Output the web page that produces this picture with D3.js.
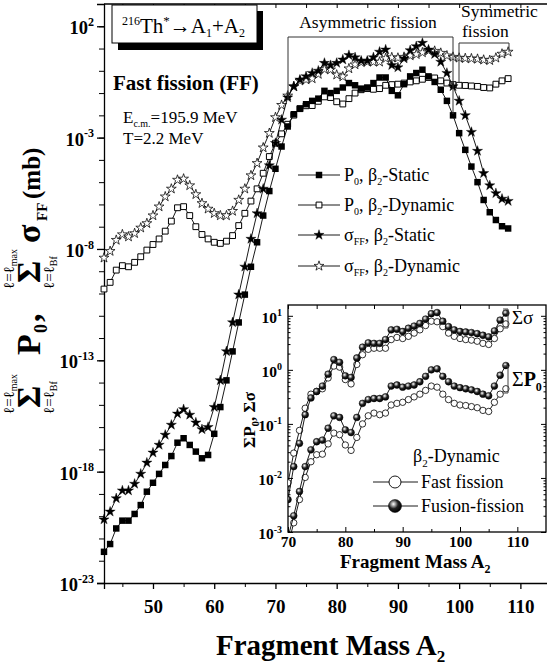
<!DOCTYPE html>
<html>
<head>
<meta charset="utf-8">
<script src="https://cdn.jsdelivr.net/npm/d3@7"></script>
<style>
body { margin: 0; background: #fff; }
</style>
</head>
<body>
<script>
const width = 547, height = 666;
const serif = "'Liberation Serif'";

// fragment mass A2, main panel
const massMain = [42,43,44,45,46,47,48,49,50,51,52,53,54,55,56,57,58,59,60,61,
  62,63,64,65,66,67,68,69,70,71,72,73,74,75,76,77,78,79,80,81,
  82,83,84,85,86,87,88,89,90,91,92,93,94,95,96,97,98,99,100,101,
  102,103,104,105,106,107,108];

// all values below are log10 of the plotted quantity
const p0Static = [-21.6,-21.25,-20.55,-20.2,-20.2,-19.9,-19.5,-18.9,-18.5,-18.1,
  -17.7,-17.3,-16.7,-16.5,-16.8,-17.1,-17.4,-17.25,-16.3,-15.1,
  -13.9,-12.6,-11.3,-10.05,-8.8,-7.7,-6.5,-5.4,-4.4,-3.4,
  -2.5,-1.95,-1.7,-1.5,-1.35,-1.25,-0.9,-1.0,-0.9,-0.75,
  -0.55,-0.65,-0.8,-0.75,-0.55,-0.3,-0.3,-0.9,-1.1,-0.6,
  -0.25,-0.1,0.05,-0.25,-0.5,-0.85,-1.35,-2.0,-2.8,-3.55,
  -4.3,-5.0,-5.8,-6.35,-6.7,-6.98,-7.08];

const p0Dynamic = [-9.8,-9.5,-8.95,-8.75,-8.8,-8.6,-8.35,-8.05,-7.8,-7.55,
  -7.2,-6.75,-6.15,-6.1,-6.5,-7.0,-7.35,-7.55,-7.7,-7.75,
  -7.65,-7.4,-6.95,-6.4,-5.85,-5.3,-4.6,-3.85,-3.25,-2.83,
  -2.4,-1.99,-1.7,-1.57,-1.56,-1.37,-1.17,-1.2,-1.39,-1.49,
  -1.25,-1.0,-0.85,-0.8,-0.83,-0.8,-0.65,-0.62,-0.6,-0.55,
  -0.5,-0.45,-0.38,-0.3,-0.32,-0.45,-0.55,-0.62,-0.65,-0.66,
  -0.68,-0.7,-0.75,-0.77,-0.6,-0.45,-0.35];

const sigmaStatic = [-20.15,-19.8,-19.2,-18.85,-18.85,-18.55,-18.1,-17.6,-17.15,-16.8,
  -16.35,-15.9,-15.4,-15.2,-15.45,-15.8,-16.1,-16.0,-15.1,-13.9,
  -12.6,-11.3,-10.05,-8.8,-7.55,-6.4,-5.3,-4.25,-3.25,-2.2,
  -1.2,-0.7,-0.4,-0.25,-0.1,0.0,0.35,0.25,0.35,0.5,
  0.7,0.6,0.45,0.45,0.6,0.85,0.95,0.25,0.15,0.55,
  0.92,1.1,1.25,0.95,0.75,0.4,-0.1,-0.7,-1.35,-2.0,
  -2.75,-3.6,-4.6,-5.15,-5.5,-5.75,-5.85];

const sigmaDynamic = [-8.4,-8.1,-7.6,-7.35,-7.45,-7.3,-7.05,-6.85,-6.5,-6.1,
  -5.65,-5.3,-4.9,-4.85,-5.15,-5.55,-5.95,-6.2,-6.4,-6.5,
  -6.5,-6.3,-5.8,-5.3,-4.7,-4.15,-3.45,-2.8,-2.09,-1.54,
  -1.12,-0.71,-0.45,-0.4,-0.35,-0.15,0.07,0.05,-0.18,-0.26,
  0.1,0.28,0.38,0.4,0.4,0.4,0.56,0.6,0.58,0.62,
  0.68,0.74,0.82,0.9,0.89,0.8,0.68,0.62,0.58,0.56,
  0.55,0.53,0.49,0.47,0.58,0.76,0.85];

// inset: fusion-fission (beta2-dynamic), A2 = 70..108
const massInset = [70,71,72,73,74,75,76,77,78,79,80,81,82,83,84,85,86,87,88,89,
  90,91,92,93,94,95,96,97,98,99,100,101,102,103,104,105,106,107,108];
const fusionSigma = [-2.4,-1.79,-1.36,-0.83,-0.52,-0.4,-0.3,-0.08,0.19,0.14,
  -0.11,-0.14,0.22,0.42,0.5,0.49,0.49,0.56,0.74,0.75,
  0.71,0.77,0.81,0.86,0.94,1.04,1.06,0.9,0.8,0.74,
  0.71,0.7,0.69,0.67,0.64,0.61,0.72,0.92,1.05];
const fusionP0 = [-3.1,-2.7,-2.25,-1.79,-1.48,-1.33,-1.3,-1.08,-0.85,-0.88,
  -1.11,-1.16,-0.88,-0.62,-0.55,-0.53,-0.53,-0.5,-0.3,-0.28,
  -0.32,-0.3,-0.28,-0.22,-0.12,0.0,0.02,-0.12,-0.22,-0.3,
  -0.33,-0.35,-0.37,-0.4,-0.45,-0.48,-0.3,-0.1,0.08];

const xTicksMain = [50,60,70,80,90,100,110];
const xMinorMain = [45,55,65,75,85,95,105,115];
const yLabelExpMain = [2,-3,-8,-13,-18,-23];
const xTicksInset = [70,80,90,100,110];
const xMinorInset = [75,85,95,105];
const yLabelExpInset = [1,0,-1,-2,-3];

const svg = d3.select("body").append("svg")
  .attr("width", width)
  .attr("height", height)
  .attr("font-family", serif);

const defs = svg.append("defs");
const grad = defs.append("radialGradient").attr("id", "ball")
  .attr("cx", "38%").attr("cy", "35%").attr("r", "65%");
grad.append("stop").attr("offset", "0%").attr("stop-color", "#fff");
grad.append("stop").attr("offset", "22%").attr("stop-color", "#aaa");
grad.append("stop").attr("offset", "55%").attr("stop-color", "#222");
grad.append("stop").attr("offset", "100%").attr("stop-color", "#000");

// ---------- main panel ----------
const x = d3.scaleLinear([42, 115], [104, 551]);
const y = d3.scaleLog([1e-23, 1e3], [583, 4]);

const decadesMain = d3.range(-23, 3).map(e => 10 ** e);

function powLabels(sel, fs, sfs) {
  sel.each(function (d) {
    const t = d3.select(this);
    const e = Math.round(Math.log10(d));
    t.text(null);
    t.append("tspan").text("10");
    t.append("tspan").attr("dy", -fs * 0.45).attr("font-size", sfs).text(e);
  });
}

function styleTicks(g, fs) {
  g.attr("font-family", serif);
  g.selectAll("text")
    .attr("font-size", fs).attr("font-weight", "bold").attr("fill", "#000");
}

// minor decade ticks on left
svg.append("g")
  .attr("transform", "translate(104,0)")
  .call(d3.axisLeft(y).tickValues(decadesMain).tickSize(5).tickFormat(""))
  .call(g => g.select(".domain").remove());

const yAxis = svg.append("g")
  .attr("transform", "translate(104,0)")
  .call(d3.axisLeft(y).tickValues(yLabelExpMain.map(e => 10 ** e)).tickSize(7).tickPadding(3))
  .call(styleTicks, 18.5);
yAxis.selectAll("text").attr("dy", "0.4em").call(powLabels, 18.5, 12);
yAxis.selectAll("line, path").attr("stroke-width", 1.3);

const xAxis = svg.append("g")
  .attr("transform", "translate(0,583)")
  .call(d3.axisBottom(x).tickValues(xTicksMain).tickSize(6).tickPadding(11))
  .call(styleTicks, 19);
xAxis.selectAll("line, path").attr("stroke-width", 1.3);
svg.append("g")
  .attr("transform", "translate(0,583)")
  .call(d3.axisBottom(x).tickValues(xMinorMain).tickSize(4).tickFormat(""))
  .call(g => g.select(".domain").remove());

// top frame with inward ticks
svg.append("line").attr("x1", 104).attr("x2", 551).attr("y1", 4).attr("y2", 4)
  .attr("stroke", "#000").attr("stroke-width", 1.3);
svg.append("g")
  .attr("transform", "translate(0,4)")
  .call(d3.axisTop(x).tickValues(xTicksMain.concat(xMinorMain)).tickSize(-4).tickFormat(""))
  .call(g => g.select(".domain").remove());

const markers = {
  sqFill: { d: d3.symbol(d3.symbolSquare, 42)(), fill: "#000", stroke: "none", sw: 0 },
  sqOpen: { d: d3.symbol(d3.symbolSquare, 34)(), fill: "#fff", stroke: "#000", sw: 1 },
  starFill: { d: d3.symbol(d3.symbolStar, 32)(), fill: "#000", stroke: "#000", sw: 0.4 },
  starOpen: { d: d3.symbol(d3.symbolStar, 30)(), fill: "#fff", stroke: "#000", sw: 0.75 }
};

function drawSeries(g, xs, ys, masses, logs, mk) {
  const pts = masses.map((a, i) => [a, 10 ** logs[i]]);
  g.append("path").datum(pts)
    .attr("fill", "none").attr("stroke", "#000").attr("stroke-width", 0.9)
    .attr("d", d3.line().x(d => xs(d[0])).y(d => ys(d[1])));
  g.append("g").selectAll("path").data(pts).join("path")
    .attr("transform", d => `translate(${xs(d[0])},${ys(d[1])})`)
    .attr("d", mk.d).attr("fill", mk.fill).attr("stroke", mk.stroke).attr("stroke-width", mk.sw);
}

const plot = svg.append("g");
drawSeries(plot, x, y, massMain, sigmaDynamic, markers.starOpen);
drawSeries(plot, x, y, massMain, p0Dynamic, markers.sqOpen);
drawSeries(plot, x, y, massMain, sigmaStatic, markers.starFill);
drawSeries(plot, x, y, massMain, p0Static, markers.sqFill);

// reaction box
svg.append("rect").attr("x", 118).attr("y", 11).attr("width", 145).attr("height", 39).attr("fill", "#000");
svg.append("rect").attr("x", 112).attr("y", 5).attr("width", 145).attr("height", 38)
  .attr("fill", "#fff").attr("stroke", "#000").attr("stroke-width", 1);
const rx = svg.append("text").attr("x", 122).attr("y", 33).attr("font-size", 21);
rx.append("tspan").attr("font-size", 12).attr("dy", -8).text("216");
rx.append("tspan").attr("dy", 8).text("Th");
rx.append("tspan").attr("font-size", 13).attr("dy", -8).text("*");
rx.append("tspan").attr("dy", 8).text("→A");
rx.append("tspan").attr("font-size", 12).attr("dy", 4).text("1");
rx.append("tspan").attr("dy", -4).text("+A");
rx.append("tspan").attr("font-size", 12).attr("dy", 4).text("2");

svg.append("text").attr("x", 113).attr("y", 90).attr("font-size", 21).attr("font-weight", "bold")
  .text("Fast fission (FF)");
const ecm = svg.append("text").attr("x", 123).attr("y", 123).attr("font-size", 17);
ecm.append("tspan").text("E");
ecm.append("tspan").attr("font-size", 10).attr("dy", 4).text("c.m.");
ecm.append("tspan").attr("dy", -4).text("=195.9 MeV");
svg.append("text").attr("x", 123).attr("y", 144).attr("font-size", 17).text("T=2.2 MeV");

// fission region brackets
svg.append("path").attr("d", "M288,100V37H453V114")
  .attr("fill", "none").attr("stroke", "#333").attr("stroke-width", 1);
svg.append("text").attr("x", 368).attr("y", 28).attr("font-size", 17.5).attr("text-anchor", "middle")
  .text("Asymmetric fission");
svg.append("path").attr("d", "M459,83V43H509V52")
  .attr("fill", "none").attr("stroke", "#333").attr("stroke-width", 1);
svg.append("text").attr("x", 461).attr("y", 17).attr("font-size", 17.5).text("Symmetric");
svg.append("text").attr("x", 462).attr("y", 37).attr("font-size", 17.5).text("fission");

// main legend
const legendRows = [
  { mk: markers.sqFill, q: "P", sub: "0", kind: "Static" },
  { mk: markers.sqOpen, q: "P", sub: "0", kind: "Dynamic" },
  { mk: markers.starFill, q: "σ", sub: "FF", kind: "Static" },
  { mk: markers.starOpen, q: "σ", sub: "FF", kind: "Dynamic" }
];
const legendY = [175, 205, 235, 266];
legendRows.forEach((r, i) => {
  const ly = legendY[i];
  svg.append("line").attr("x1", 298).attr("x2", 340).attr("y1", ly).attr("y2", ly)
    .attr("stroke", "#000").attr("stroke-width", 0.9);
  svg.append("path").attr("transform", `translate(319,${ly})`)
    .attr("d", r.mk.d).attr("fill", r.mk.fill).attr("stroke", r.mk.stroke).attr("stroke-width", r.mk.sw);
  const t = svg.append("text").attr("x", 344).attr("y", ly + 6).attr("font-size", 18);
  t.append("tspan").text(r.q);
  t.append("tspan").attr("font-size", 10).attr("dy", 4).text(r.sub);
  t.append("tspan").attr("dy", -4).text(", β");
  t.append("tspan").attr("font-size", 10).attr("dy", 4).text("2");
  t.append("tspan").attr("dy", -4).text("-" + r.kind);
});

// y title (rotated)
const yt = svg.append("g").attr("transform", "translate(40,413) rotate(-90)")
  .attr("font-weight", "bold");
function sumWithLimits(x0) {
  yt.append("text").attr("x", x0).attr("y", 0).attr("font-size", 34).text("Σ");
  const up = yt.append("text").attr("x", x0 - 6).attr("y", -26)
    .attr("font-size", 15).attr("font-weight", "normal");
  up.append("tspan").text("ℓ=ℓ");
  up.append("tspan").attr("font-size", 10).attr("dy", 3).text("max");
  const lo = yt.append("text").attr("x", x0 - 6).attr("y", 14)
    .attr("font-size", 15).attr("font-weight", "normal");
  lo.append("tspan").text("ℓ=ℓ");
  lo.append("tspan").attr("font-size", 10).attr("dy", 3).text("Bf");
}
sumWithLimits(5);
yt.append("text").attr("x", 58).attr("y", 0).attr("font-size", 34).text("P");
yt.append("text").attr("x", 80).attr("y", 7).attr("font-size", 18).text("0");
yt.append("text").attr("x", 91).attr("y", 0).attr("font-size", 34).text(",");
sumWithLimits(130);
yt.append("text").attr("x", 170).attr("y", 0).attr("font-size", 34).text("σ");
yt.append("text").attr("x", 192).attr("y", 7).attr("font-size", 15).text("FF");
yt.append("text").attr("x", 214).attr("y", 0).attr("font-size", 25).text("(mb)");

// x title
const xt = svg.append("text").attr("x", 216).attr("y", 655).attr("font-size", 29).attr("font-weight", "bold");
xt.append("tspan").text("Fragment Mass A");
xt.append("tspan").attr("font-size", 17).attr("dy", 7).text("2");

// ---------- inset ----------
const xi = d3.scaleLinear([70, 115], [288, 546]);
const yi = d3.scaleLog([1e-3, 10 ** 1.2], [532, 305]);

const inset = svg.append("g");
inset.append("rect").attr("x", 288).attr("y", 305).attr("width", 258).attr("height", 227)
  .attr("fill", "#fff").attr("stroke", "#000").attr("stroke-width", 1.3);
defs.append("clipPath").attr("id", "insetClip")
  .append("rect").attr("x", 288).attr("y", 305).attr("width", 258).attr("height", 227);

const minorInsetY = [];
for (let e = -3; e < 2; e++) for (let m = 2; m < 10; m++) {
  const v = m * 10 ** e;
  if (v < 10 ** 1.2) minorInsetY.push(v);
}

const xiAxis = inset.append("g").attr("transform", "translate(0,532)")
  .call(d3.axisBottom(xi).tickValues(xTicksInset).tickSize(-5).tickPadding(4))
  .call(styleTicks, 15.5);
xiAxis.select(".domain").remove();
inset.append("g").attr("transform", "translate(0,532)")
  .call(d3.axisBottom(xi).tickValues(xMinorInset).tickSize(-3).tickFormat(""))
  .call(g => g.select(".domain").remove());
inset.append("g").attr("transform", "translate(0,305)")
  .call(d3.axisTop(xi).tickValues(xTicksInset.concat(xMinorInset)).tickSize(-4).tickFormat(""))
  .call(g => g.select(".domain").remove());

const yiAxis = inset.append("g").attr("transform", "translate(288,0)")
  .call(d3.axisLeft(yi).tickValues(yLabelExpInset.map(e => 10 ** e)).tickSize(-5).tickPadding(6))
  .call(styleTicks, 15.5);
yiAxis.select(".domain").remove();
yiAxis.selectAll("text").attr("dy", "0.45em").call(powLabels, 15.5, 10);
inset.append("g").attr("transform", "translate(288,0)")
  .call(d3.axisLeft(yi).tickValues(minorInsetY).tickSize(-2.5).tickFormat(""))
  .call(g => g.select(".domain").remove());
inset.append("g").attr("transform", "translate(546,0)")
  .call(d3.axisRight(yi).tickValues(yLabelExpInset.map(e => 10 ** e)).tickSize(-5).tickFormat(""))
  .call(g => g.select(".domain").remove());
inset.append("g").attr("transform", "translate(546,0)")
  .call(d3.axisRight(yi).tickValues(minorInsetY).tickSize(-2.5).tickFormat(""))
  .call(g => g.select(".domain").remove());

const i0 = massMain.indexOf(70);
const fastSigma = sigmaDynamic.slice(i0);
const fastP0 = p0Dynamic.slice(i0);

const insetPlot = inset.append("g").attr("clip-path", "url(#insetClip)");
function drawCircles(masses, logs, filled) {
  const pts = masses.map((a, i) => [a, 10 ** logs[i]]);
  insetPlot.append("path").datum(pts)
    .attr("fill", "none").attr("stroke", "#000").attr("stroke-width", 0.9)
    .attr("d", d3.line().x(d => xi(d[0])).y(d => yi(d[1])));
  insetPlot.append("g").selectAll("circle").data(pts).join("circle")
    .attr("cx", d => xi(d[0])).attr("cy", d => yi(d[1]))
    .attr("r", filled ? 3.4 : 3.2)
    .attr("fill", filled ? "url(#ball)" : "#fff")
    .attr("stroke", "#000").attr("stroke-width", filled ? 0.5 : 0.8);
}
drawCircles(massInset, fastSigma, false);
drawCircles(massInset, fusionSigma, true);
drawCircles(massInset, fastP0, false);
drawCircles(massInset, fusionP0, true);

// right-hand brackets
inset.append("path").attr("d", "M503,309H508V328H503").attr("fill", "none").attr("stroke", "#444");
inset.append("text").attr("x", 512).attr("y", 324).attr("font-size", 19).text("Σσ");
inset.append("path").attr("d", "M503,366H508V393H503").attr("fill", "none").attr("stroke", "#444");
const sp = inset.append("text").attr("x", 512).attr("y", 386).attr("font-size", 20);
sp.append("tspan").text("Σ");
sp.append("tspan").attr("font-weight", "bold").text("P");
sp.append("tspan").attr("font-weight", "bold").attr("font-size", 12).attr("dy", 5).text("0");

// inset legend
const bd = inset.append("text").attr("x", 413).attr("y", 462).attr("font-size", 18);
bd.append("tspan").text("β");
bd.append("tspan").attr("font-size", 11).attr("dy", 5).text("2");
bd.append("tspan").attr("dy", -5).text("-Dynamic");
[["Fast fission", false, 482], ["Fusion-fission", true, 506]].forEach(([label, filled, ly]) => {
  inset.append("line").attr("x1", 373).attr("x2", 418).attr("y1", ly).attr("y2", ly)
    .attr("stroke", "#000").attr("stroke-width", 0.9);
  inset.append("circle").attr("cx", 395).attr("cy", ly).attr("r", filled ? 6.5 : 6)
    .attr("fill", filled ? "url(#ball)" : "#fff").attr("stroke", "#000").attr("stroke-width", filled ? 0.5 : 0.9);
  inset.append("text").attr("x", 421).attr("y", ly + 6).attr("font-size", 18).text(label);
});

// inset axis titles
const xit = inset.append("text").attr("x", 340).attr("y", 568).attr("font-size", 19).attr("font-weight", "bold");
xit.append("tspan").text("Fragment Mass A");
xit.append("tspan").attr("font-size", 12).attr("dy", 5).text("2");
const yit = inset.append("text").attr("transform", "translate(255,420) rotate(-90)")
  .attr("text-anchor", "middle").attr("font-size", 17).attr("font-weight", "bold");
yit.append("tspan").text("ΣP");
yit.append("tspan").attr("font-size", 11).attr("dy", 4).text("0");
yit.append("tspan").attr("dy", -4).text(", Σσ");
</script>
</body>
</html>
